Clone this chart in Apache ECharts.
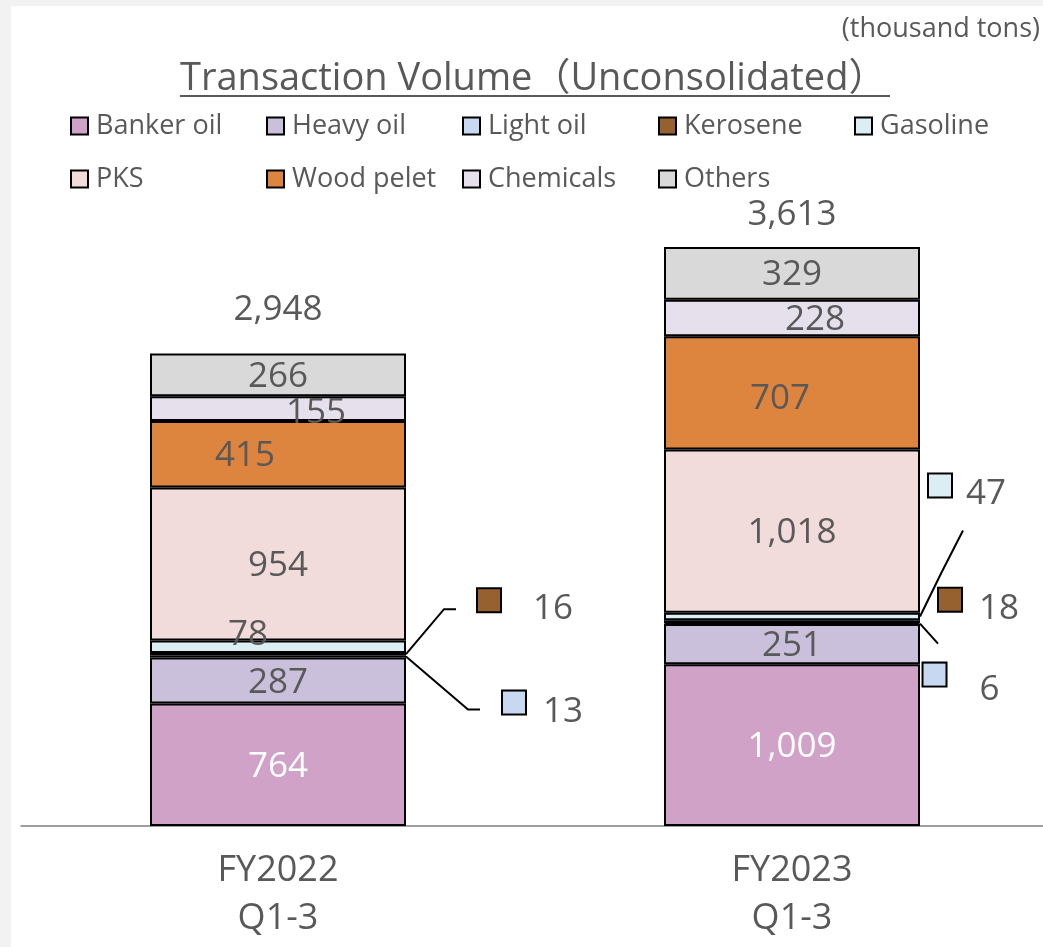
<!DOCTYPE html>
<html>
<head>
<meta charset="utf-8">
<script src="https://cdn.jsdelivr.net/npm/echarts@6/dist/echarts.min.js"></script>
<style>
  html, body { margin: 0; padding: 0; background: #f2f2f2; }
  #panel { position: absolute; left: 11px; top: 6px; right: 0; bottom: 0; background: #fff; }
  #chart { position: absolute; left: 0; top: 0; width: 1043px; height: 947px; }
</style>
</head>
<body>
<div id="panel"></div>
<div id="chart"></div>
<script>
// data (thousand tons)
const categories = ['FY2022\nQ1-3', 'FY2023\nQ1-3']
const seriesNames = ['Banker oil', 'Heavy oil', 'Light oil', 'Kerosene', 'Gasoline', 'PKS', 'Wood pelet', 'Chemicals', 'Others']
const bankerOil = [764, 1009]
const heavyOil = [287, 251]
const lightOil = [13, 6]
const kerosene = [16, 18]
const gasoline = [78, 47]
const pks = [954, 1018]
const woodPelet = [415, 707]
const chemicals = [155, 228]
const others = [266, 329]
const totals = [2948, 3613]

const values = [bankerOil, heavyOil, lightOil, kerosene, gasoline, pks, woodPelet, chemicals, others]
const colors = ['#d0a2c8', '#cbc0dc', '#c6d9f0', '#97602f', '#dbeef3', '#f2dcdb', '#dd843f', '#e5e0ec', '#d9d9d9']
const font = '"Open Sans", "Noto Sans CJK JP", sans-serif'
const grey = '#595959'
const numSize = 35
const barWidth = 256
const fmt = v => v.toLocaleString('en-US')

// small segments labelled outside the bar (series-dataIndex)
const outside = {
  '3-0': { dx: 72, dy: -54, gap: 33, pad: 18, line: [[38, -45], [50, -45]] },
  '2-0': { dx: 97, dy: 46, gap: 18, pad: 18, line: [[62, 53], [74, 53]] },
  '4-1': { dx: 9, dy: -131, gap: 15, pad: 18, line: [[21, -43], [43, -86]] },
  '3-1': { dx: 19, dy: -22, gap: 18, pad: 18 },
  '2-1': { dx: 3, dy: 51, gap: 34, pad: 31, line: [[9, 10], [18, 20]] }
}
// hand-placed labels in the original
const nudge = { '7-0': [38, 2], '6-0': [-33, 0], '4-0': [-30, -14], '7-1': [23, 0], '6-1': [-12, 4] }
// distance of the total above each bar
const totalGap = [26, 14]

// middle of a stacked segment, in data units
const segMid = (s, d) => {
  let base = 0
  for (let i = 0; i < s; i++) base += values[i][d]
  return base + values[s][d] / 2
}

const series = values.map((arr, s) => ({
  name: seriesNames[s],
  type: 'bar',
  stack: 'total',
  barWidth: barWidth,
  itemStyle: { color: colors[s], borderColor: '#000', borderWidth: 2 },
  labelLayout: p => {
    const key = p.seriesIndex + '-' + p.dataIndex
    const o = outside[key]
    if (!o) {
      const n = nudge[key] || [0, 0]
      return { dx: n[0], dy: n[1] + 2 }
    }
    const ax = p.rect.x + p.rect.width
    const ay = p.rect.y + p.rect.height / 2
    return { x: ax + o.dx, y: ay + o.dy, align: 'left', verticalAlign: 'middle' }
  },
  data: arr.map((v, d) => {
    const o = outside[s + '-' + d]
    if (o) {
      return {
        value: v,
        label: {
          show: true,
          position: 'right',
          formatter: '{sq|}{v|' + fmt(v) + '}',
          rich: {
            sq: { width: 22, height: 22, backgroundColor: colors[s], borderColor: '#000', borderWidth: 2 },
            v: { fontSize: numSize, fontFamily: font, color: grey, lineHeight: 36, padding: [o.pad, 0, 0, o.gap] }
          }
        }
      }
    }
    return {
      value: v,
      label: {
        show: true,
        position: 'inside',
        formatter: fmt(v),
        fontSize: numSize,
        fontFamily: font,
        color: s === 0 ? '#fff' : grey
      }
    }
  })
}))

// leader lines from the bar edge to the outside labels
const leaderKeys = Object.keys(outside).filter(k => outside[k].line)
series.push({
  name: 'leaders',
  type: 'custom',
  silent: true,
  z: 5,
  data: leaderKeys.map((k, i) => {
    const [s, d] = k.split('-').map(Number)
    return [d, segMid(s, d), i]
  }),
  renderItem: (params, api) => {
    const pt = api.coord([api.value(0), api.value(1)])
    const line = outside[leaderKeys[api.value(2)]].line
    const ax = pt[0] + barWidth / 2
    const ay = pt[1]
    return {
      type: 'polyline',
      shape: { points: [[ax, ay], [ax + line[0][0], ay + line[0][1]], [ax + line[1][0], ay + line[1][1]]] },
      style: { stroke: '#000', lineWidth: 2, fill: null }
    }
  }
})

// totals above each bar
series.push({
  name: 'total',
  type: 'scatter',
  symbolSize: 0,
  silent: true,
  itemStyle: { opacity: 1 },
  data: totals.map((v, d) => ({ value: v, label: { distance: totalGap[d] } })),
  label: {
    show: true,
    position: 'top',
    formatter: p => fmt(p.value),
    fontSize: numSize,
    fontFamily: font,
    color: grey,
    opacity: 1
  }
})

const legendBase = {
  left: 70,
  padding: 0,
  width: 1000,
  icon: 'rect',
  itemWidth: 17,
  itemHeight: 17,
  itemGap: 12,
  selectedMode: false,
  itemStyle: { borderColor: '#000', borderWidth: 2 },
  textStyle: { fontSize: 27, fontFamily: font, color: grey, width: 158, lineHeight: 28, padding: [0, 0, 0, 3] }
}

const myChart = echarts.init(document.getElementById('chart'))
const option = {
  backgroundColor: 'transparent',
  animation: false,
  textStyle: { fontFamily: font },
  title: [
    {
      text: 'Transaction Volume（Unconsolidated）',
      left: 180,
      top: 57,
      padding: 0,
      textStyle: { fontSize: 38, fontWeight: 'normal', fontFamily: font, color: grey, lineHeight: 44 }
    },
    {
      text: '(thousand tons)',
      right: 3,
      top: 14,
      padding: 0,
      textStyle: { fontSize: 27, fontWeight: 'normal', fontFamily: font, color: grey, lineHeight: 30 }
    }
  ],
  graphic: [
    {
      type: 'line',
      shape: { x1: 180, y1: 96, x2: 890, y2: 96 },
      style: { stroke: grey, lineWidth: 2 }
    }
  ],
  legend: [
    Object.assign({}, legendBase, { top: 112, data: seriesNames.slice(0, 5) }),
    Object.assign({}, legendBase, { top: 165, data: seriesNames.slice(5) })
  ],
  grid: { left: 21, width: 1028, top: 185, bottom: 121, outerBoundsMode: 'none' },
  xAxis: {
    type: 'category',
    data: categories,
    axisLine: { lineStyle: { color: '#808080', width: 1.5 } },
    axisTick: { show: false },
    axisLabel: { fontSize: 36, fontFamily: font, color: grey, lineHeight: 48, margin: 21 }
  },
  yAxis: { type: 'value', min: 0, max: 4000, show: false },
  series: series
}

myChart.setOption(option)
</script>
</body>
</html>
